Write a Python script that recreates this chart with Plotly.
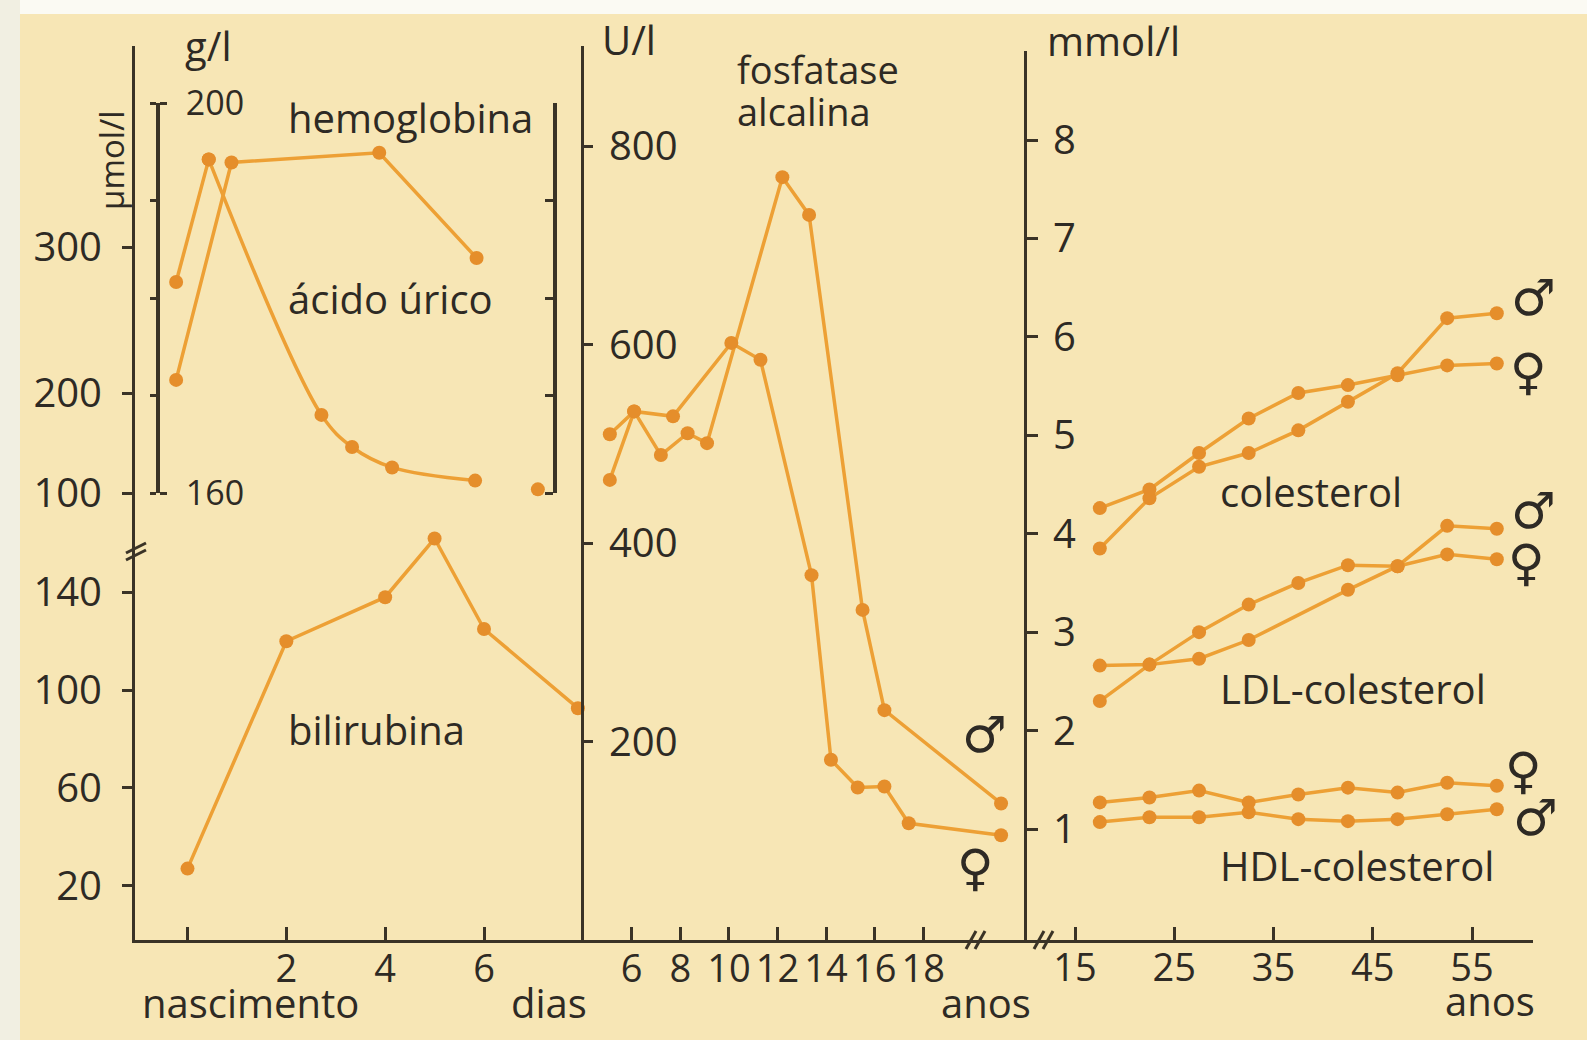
import plotly.graph_objects as go

W, H = 1587, 1040


def px(x):
    return x / W


def py(y):
    return 1 - y / H


def lin(p0, v0, p1, v1):
    """pixel -> value mapping used to set axis scales"""
    return lambda p: v0 + (p - p0) * (v1 - v0) / (p1 - p0)


# ------------------------------------------------------------------ data
# panel 1 : first days of life
URIC_DAYS = [-0.23, 0.43, 2.71, 3.33, 4.14, 5.82, 7.09]
URIC_UMOL = [276, 360, 185, 163, 149, 140, 134]
HB_DAYS = [-0.23, 0.89, 3.88, 5.85]
HB_GL = [171.6, 193.9, 194.9, 184.1]
BILI_DAYS = [0, 2, 4, 5, 6, 7.9]
BILI_UMOL = [27, 120, 138, 162, 125, 92.6]

# panel 2 : alkaline phosphatase (U/l) by age (years); last point = adult
ALP_M_AGE = [5.1, 6.1, 7.2, 8.3, 9.1, 12.2, 13.3, 15.5, 16.4, 21.2]
ALP_M = [464, 533, 489, 511, 501, 769, 731, 333, 232, 138]
ALP_F_AGE = [5.1, 6.1, 7.7, 10.1, 11.3, 13.4, 14.2, 15.3, 16.4, 17.4, 21.2]
ALP_F = [510, 533, 528, 602, 585, 368, 182, 154, 155, 118, 106]

# panel 3 : cholesterol (mmol/l) by age group
AGE_GROUPS = [17.5, 22.5, 27.5, 32.5, 37.5, 42.5, 47.5, 52.5, 57.5]
CHOL_M = [3.85, 4.36, 4.68, 4.82, 5.05, 5.34, 5.63, 6.19, 6.24]
CHOL_F = [4.26, 4.45, 4.82, 5.17, 5.43, 5.51, 5.61, 5.71, 5.73]
LDL_M = [2.30, 2.67, 2.73, 2.92, None, 3.43, 3.67, 4.08, 4.05]
LDL_F = [2.66, 2.67, 3.00, 3.28, 3.50, 3.68, 3.67, 3.79, 3.74]
HDL_F = [1.27, 1.32, 1.39, 1.27, 1.35, 1.42, 1.37, 1.47, 1.44]
HDL_M = [1.07, 1.12, 1.12, 1.17, 1.10, 1.08, 1.10, 1.15, 1.20]

# tick labels
DAY_TICKS = [0, 2, 4, 6]
DAY_TICK_TEXT = ["", "2", "4", "6"]
CHILD_AGE_TICKS = [6, 8, 10, 12, 14, 16, 18]
ADULT_AGE_TICKS = [15, 25, 35, 45, 55]
BILI_TICKS = [20, 60, 100, 140]
UMOL_TICKS = [131.5, 200, 300]
UMOL_TICK_TEXT = ["100", "200", "300"]
HB_TICKS = [160, 200]
ALP_TICKS = [200, 400, 600, 800]
MMOL_TICKS = [1, 2, 3, 4, 5, 6, 7, 8]

# ------------------------------------------------------------------ style
BG = "#f7e6b5"
AX = "#3a3326"
TXT = "#2e2a24"
LINE = "#eda035"
MARK = "#e58e2b"
FONT = "Open Sans"
SYM_FONT = "DejaVu Sans"

# scales (pixel calibrations)
f_day = lin(187.5, 0, 484, 6)
f_child = lin(631.7, 6, 923.3, 18)
f_adult = lin(1075, 15, 1472, 55)
f_bili = lin(885.7, 20, 592.3, 140)
f_umol = lin(393, 200, 247, 300)
f_alp = lin(940.4, 0, 741.9, 200)
f_mmol = lin(829, 1, 140, 8)

fig = go.Figure()


def series(x, y, xa, ya, shape="linear", mode="lines+markers"):
    fig.add_trace(go.Scatter(
        x=x, y=y, xaxis=xa, yaxis=ya, mode=mode, connectgaps=True,
        line=dict(color=LINE, width=3.5, shape=shape, smoothing=1.0),
        marker=dict(color=MARK, size=14), cliponaxis=False,
        showlegend=False, hoverinfo="skip"))


# panel 1
series(URIC_DAYS[:2], URIC_UMOL[:2], "x", "y2")
series(URIC_DAYS[1:6], URIC_UMOL[1:6], "x", "y2", shape="spline")
series(URIC_DAYS[6:], URIC_UMOL[6:], "x", "y2", mode="markers")
series(HB_DAYS, HB_GL, "x", "y3")
series(BILI_DAYS, BILI_UMOL, "x", "y")
fig.add_trace(go.Scatter(x=[], y=[], xaxis="x", yaxis="y4", showlegend=False))
# panel 2
series(ALP_M_AGE, ALP_M, "x2", "y5")
series(ALP_F_AGE, ALP_F, "x2", "y5")
# panel 3
for ys in (CHOL_M, CHOL_F, LDL_M, LDL_F, HDL_F, HDL_M):
    series(AGE_GROUPS, ys, "x3", "y6")

xtickfont = dict(family=FONT, size=38, color=TXT)
ytickfont = dict(family=FONT, size=40, color=TXT)
common = dict(showgrid=False, zeroline=False, showline=True, linecolor=AX,
              linewidth=3, tickcolor=AX, tickwidth=3, automargin=False,
              tickmode="array", fixedrange=True)

fig.update_layout(
    width=W, height=H,
    margin=dict(l=0, r=0, t=0, b=0, pad=0, autoexpand=False),
    paper_bgcolor=BG, plot_bgcolor="rgba(0,0,0,0)",
    xaxis=dict(domain=[px(135), px(582)], range=[f_day(135), f_day(582)],
               anchor="y", tickvals=DAY_TICKS, ticktext=DAY_TICK_TEXT,
               ticks="inside", ticklen=13, ticklabelstandoff=-7,
               tickfont=xtickfont, **common),
    xaxis2=dict(domain=[px(582), px(1025)],
                range=[f_child(582), f_child(1025)], anchor="y5",
                tickvals=CHILD_AGE_TICKS, ticks="inside", ticklen=13,
                ticklabelstandoff=-7, tickfont=xtickfont, **common),
    xaxis3=dict(domain=[px(1025), px(1533)],
                range=[f_adult(1025), f_adult(1533)], anchor="y6",
                tickvals=ADULT_AGE_TICKS, ticks="inside", ticklen=13,
                ticklabelstandoff=-8, tickfont=xtickfont, **common),
    yaxis=dict(domain=[py(940), py(520)], range=[f_bili(940), f_bili(520)],
               anchor="x", tickvals=BILI_TICKS, ticks="outside", ticklen=10,
               ticklabelstandoff=12, tickfont=ytickfont, **common),
    yaxis2=dict(domain=[py(551), py(46)], range=[f_umol(551), f_umol(46)],
                anchor="x", tickvals=UMOL_TICKS, ticktext=UMOL_TICK_TEXT,
                ticks="outside", ticklen=10, ticklabelstandoff=12,
                tickfont=ytickfont, **common),
    yaxis3=dict(domain=[py(493), py(103)], range=[160, 200],
                anchor="free", position=px(158), side="right",
                tickvals=HB_TICKS, ticks="outside", ticklen=7,
                ticklabelstandoff=12,
                minor=dict(ticks="inside", dtick=10, tick0=160, ticklen=6,
                           tickwidth=3, tickcolor=AX),
                tickfont=dict(family=FONT, size=34, color=TXT),
                **{**common, "linewidth": 4}),
    yaxis4=dict(range=[160, 200], overlaying="y3", anchor="free",
                position=px(555), side="left", tickvals=[160, 170, 180, 190],
                ticks="outside", ticklen=8, showticklabels=False,
                **{**common, "linewidth": 4}),
    yaxis5=dict(domain=[py(940), py(46)], range=[f_alp(940), f_alp(46)],
                anchor="free", position=px(582), side="right",
                tickvals=ALP_TICKS, ticks="outside", ticklen=9,
                ticklabelstandoff=8, tickfont=ytickfont, **common),
    yaxis6=dict(domain=[py(940), py(51)], range=[f_mmol(940), f_mmol(51)],
                anchor="free", position=px(1025), side="right",
                tickvals=MMOL_TICKS, ticks="outside", ticklen=11,
                ticklabelstandoff=7, tickfont=ytickfont, **common),
)


# ------------------------------------------------------------------ texts
def label(text, x, y, size=40, xanchor="left", family=FONT, angle=0):
    fig.add_annotation(text=text, x=px(x), y=py(y), xref="paper",
                       yref="paper", xanchor=xanchor, yanchor="middle",
                       showarrow=False, textangle=angle,
                       font=dict(family=family, size=size, color=TXT))


label("g/l", 183, 46, size=40)
label("µmol/l", 111, 160, size=33, xanchor="center", angle=-90)
label("hemoglobina", 286, 117)
label("ácido úrico", 286, 298)
label("bilirubina", 286, 729)
label("U/l", 600, 40)
label("fosfatase", 735, 69, size=38)
label("alcalina", 735, 111, size=38)
label("mmol/l", 1045, 41)
label("colesterol", 1218, 491)
label("LDL-colesterol", 1218, 688)
label("HDL-colesterol", 1218, 865)
label("nascimento", 140, 1002)
label("dias", 509, 1002)
label("anos", 939, 1002)
label("anos", 1443, 1000)

MALE, FEMALE = "\u2642", "\u2640"
for sym, x, y in [(MALE, 984, 735), (FEMALE, 975, 868),
                  (MALE, 1533, 298), (FEMALE, 1528, 372),
                  (MALE, 1533, 511), (FEMALE, 1526, 563),
                  (FEMALE, 1523, 771), (MALE, 1535, 818)]:
    label(sym, x, y, size=50, xanchor="center", family=SYM_FONT)

# ------------------------------------------------------------------ decorations
shapes = [
    dict(type="rect", xref="paper", yref="paper", x0=0, x1=1, y0=py(14),
         y1=1, fillcolor="#fbfaf3", line_width=0, layer="below"),
    dict(type="rect", xref="paper", yref="paper", x0=0, x1=px(20), y0=0,
         y1=1, fillcolor="#f1efe2", line_width=0, layer="below"),
]
for (x0, y0, x1, y1) in [(126, 553, 146, 543), (126, 560, 146, 550),
                         (966, 949, 976, 931), (975, 949, 985, 931),
                         (1034, 949, 1044, 931), (1043, 949, 1053, 931)]:
    shapes.append(dict(type="line", xref="paper", yref="paper",
                       x0=px(x0), y0=py(y0), x1=px(x1), y1=py(y1),
                       line=dict(color=AX, width=3)))
fig.update_layout(shapes=shapes)

fig.write_html("out.html", config={"displayModeBar": False},
               post_script="document.body.style.margin='0';"
                           "document.body.style.overflow='hidden';")
